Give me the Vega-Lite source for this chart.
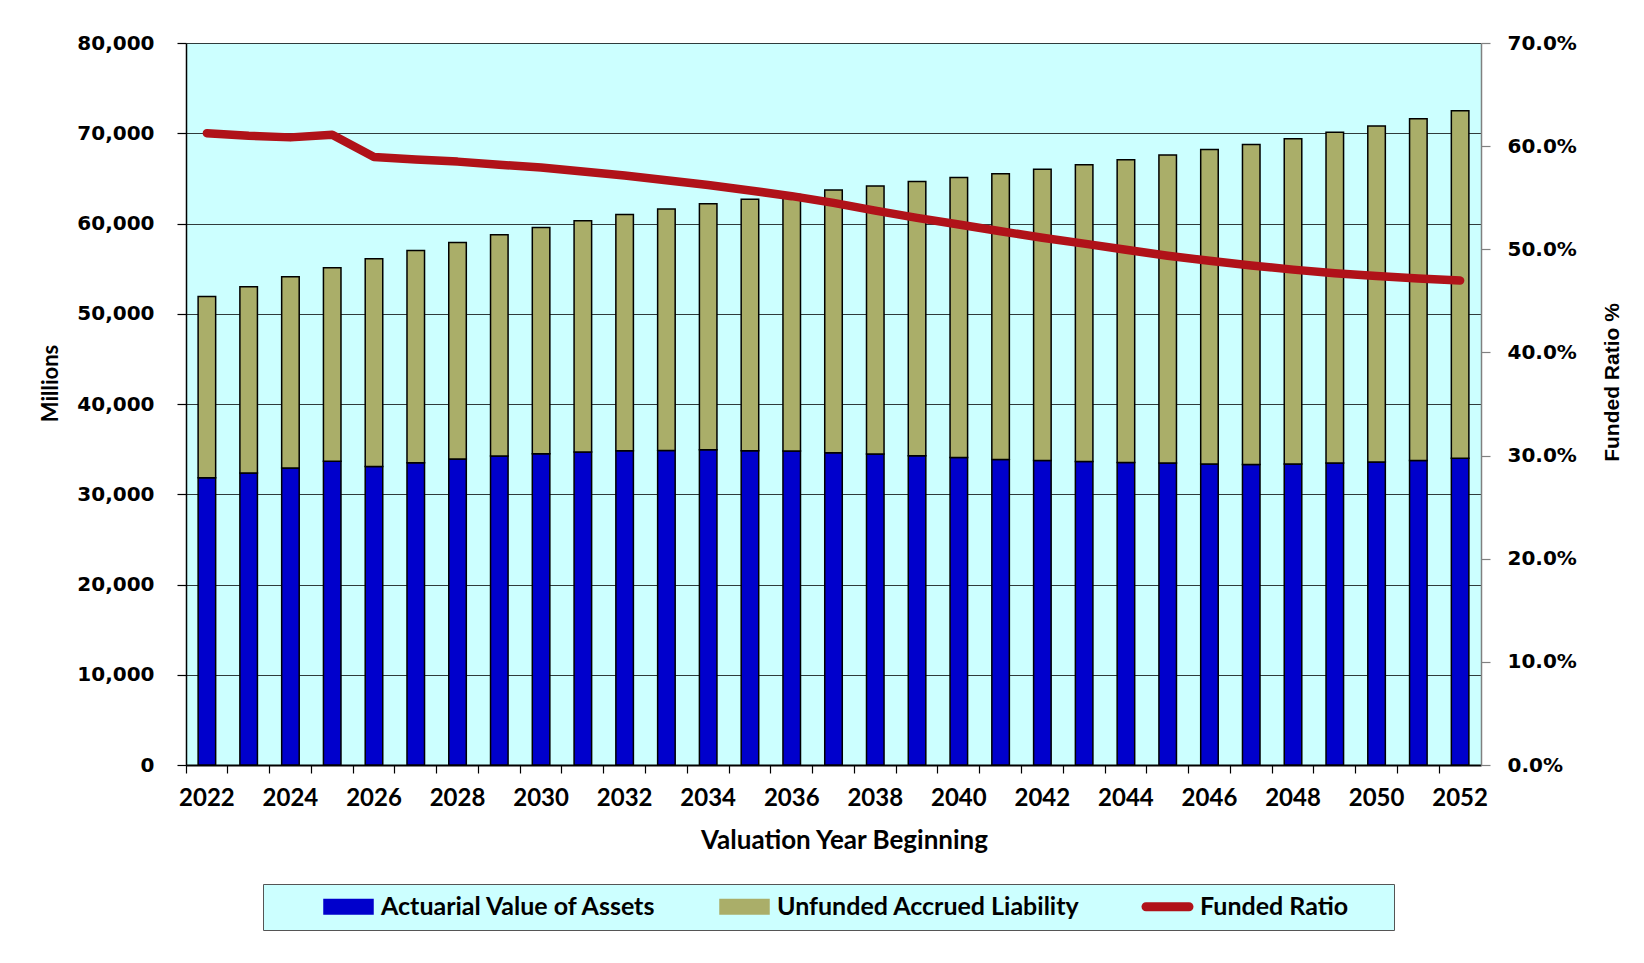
{
  "$schema": "https://vega.github.io/schema/vega-lite/v6.json",
  "autosize": {"type": "none"},
  "width": 1295,
  "height": 722,
  "padding": {"left": 186, "top": 43, "right": 163, "bottom": 198},
  "background": "white",
  "config": {"view": {"stroke": null, "fill": "#CCFFFF"}},
  "data": {
    "values": [
      {"year": 2022, "assets": 31830, "ual": 20070, "ratio": 0.6125},
      {"year": 2023, "assets": 32350, "ual": 20650, "ratio": 0.6100},
      {"year": 2024, "assets": 32900, "ual": 21200, "ratio": 0.6085},
      {"year": 2025, "assets": 33670, "ual": 21430, "ratio": 0.6110},
      {"year": 2026, "assets": 33080, "ual": 23020, "ratio": 0.5895},
      {"year": 2027, "assets": 33490, "ual": 23510, "ratio": 0.5870},
      {"year": 2028, "assets": 33900, "ual": 24000, "ratio": 0.5850},
      {"year": 2029, "assets": 34230, "ual": 24520, "ratio": 0.5820},
      {"year": 2030, "assets": 34490, "ual": 25060, "ratio": 0.5793},
      {"year": 2031, "assets": 34670, "ual": 25630, "ratio": 0.5755},
      {"year": 2032, "assets": 34820, "ual": 26180, "ratio": 0.5715},
      {"year": 2033, "assets": 34860, "ual": 26740, "ratio": 0.5670},
      {"year": 2034, "assets": 34930, "ual": 27270, "ratio": 0.5623},
      {"year": 2035, "assets": 34820, "ual": 27880, "ratio": 0.5570},
      {"year": 2036, "assets": 34780, "ual": 28420, "ratio": 0.5515},
      {"year": 2037, "assets": 34600, "ual": 29100, "ratio": 0.5450},
      {"year": 2038, "assets": 34450, "ual": 29700, "ratio": 0.5375},
      {"year": 2039, "assets": 34260, "ual": 30390, "ratio": 0.5305},
      {"year": 2040, "assets": 34080, "ual": 31020, "ratio": 0.5240},
      {"year": 2041, "assets": 33860, "ual": 31640, "ratio": 0.5175},
      {"year": 2042, "assets": 33750, "ual": 32250, "ratio": 0.5112},
      {"year": 2043, "assets": 33640, "ual": 32860, "ratio": 0.5055},
      {"year": 2044, "assets": 33530, "ual": 33520, "ratio": 0.4995},
      {"year": 2045, "assets": 33450, "ual": 34150, "ratio": 0.4938},
      {"year": 2046, "assets": 33340, "ual": 34860, "ratio": 0.4888},
      {"year": 2047, "assets": 33300, "ual": 35450, "ratio": 0.4843},
      {"year": 2048, "assets": 33340, "ual": 36060, "ratio": 0.4803},
      {"year": 2049, "assets": 33450, "ual": 36650, "ratio": 0.4768},
      {"year": 2050, "assets": 33560, "ual": 37240, "ratio": 0.4740},
      {"year": 2051, "assets": 33750, "ual": 37850, "ratio": 0.4717},
      {"year": 2052, "assets": 34000, "ual": 38500, "ratio": 0.4697}
    ]
  },
  "encoding": {
    "x": {
      "field": "year",
      "type": "ordinal",
      "scale": {"paddingInner": 0, "paddingOuter": 0},
      "axis": {
        "title": "Valuation Year Beginning",
        "bandPosition": 0,
        "labelAngle": 0,
        "labelExpr": "datum.value % 2 === 0 ? datum.label : ''",
        "labelFont": "Lato",
        "labelFontWeight": "bold",
        "labelFontSize": 24,
        "labelColor": "black",
        "labelBaseline": "alphabetic",
        "labelPadding": 32,
        "labelOverlap": false,
        "tickColor": "black",
        "tickSize": 8,
        "tickWidth": 1.2,
        "domainColor": "black",
        "domainWidth": 2,
        "titleFont": "Lato",
        "titleFontWeight": "bold",
        "titleFontSize": 26,
        "titleColor": "black",
        "titleBaseline": "alphabetic",
        "titleAlign": "center",
        "titleX": 658,
        "titleY": 83
      }
    }
  },
  "layer": [
    {
      "transform": [{"fold": ["assets", "ual"], "as": ["series", "value"]}],
      "mark": {"type": "bar", "width": {"band": 0.42}, "stroke": "black", "strokeWidth": 1.5},
      "encoding": {
        "y": {
          "field": "value",
          "type": "quantitative",
          "stack": "zero",
          "scale": {"domain": [0, 80000], "nice": false},
          "axis": {
            "title": "Millions",
            "values": [0, 10000, 20000, 30000, 40000, 50000, 60000, 70000, 80000],
            "format": ",.0f",
            "labelFont": "DejaVu Sans",
            "labelFontWeight": "bold",
            "labelFontSize": 20,
            "labelColor": "black",
            "labelPadding": 23,
            "tickSize": 9,
            "tickColor": "black",
            "tickWidth": 1.2,
            "domainColor": "black",
            "domainWidth": 1.5,
            "grid": true,
            "gridColor": "#2f3b3b",
            "gridWidth": 1.2,
            "titleFont": "Lato",
            "titleFontWeight": "bold",
            "titleFontSize": 22,
            "titleColor": "black",
            "titleAngle": -90,
            "titleAlign": "center",
            "titleBaseline": "alphabetic",
            "titleX": -129,
            "titleY": 340
          }
        },
        "color": {
          "field": "series",
          "type": "nominal",
          "scale": {"domain": ["assets", "ual", "ratio"], "range": ["#0000CC", "#AAAE69", "#B01219"]},
          "legend": {
            "title": " ",
            "titleOrient": "right",
            "titlePadding": 36,
            "orient": "none",
            "direction": "horizontal",
            "legendX": 77,
            "legendY": 841,
            "padding": 10,
            "fillColor": "#CCFFFF",
            "strokeColor": "#555555",
            "symbolSize": 400,
            "symbolOffset": 63,
            "symbolType": "M-2.45,-0.72H2.45V0.72H-2.45Z",
            "symbolStrokeColor": "black",
            "symbolStrokeWidth": 1.5,
            "labelOffset": 20,
            "columnPadding": 12,
            "labelLimit": 600,
            "labelFont": "Lato",
            "labelFontWeight": "bold",
            "labelFontSize": 25,
            "labelColor": "black",
            "labelExpr": "datum.label === 'assets' ? 'Actuarial Value of Assets' : datum.label === 'ual' ? 'Unfunded Accrued Liability' : 'Funded Ratio'",
            "encode": {
              "symbols": {
                "update": {
                  "shape": {"signal": "datum.value === 'ratio' ? 'M-2.15,-0.45H2.15A0.45,0.45 0 0 1 2.15,0.45H-2.15A0.45,0.45 0 0 1 -2.15,-0.45Z' : 'M-2.45,-0.72H2.45V0.72H-2.45Z'"},
                  "fill": {"signal": "scale('color', datum.value)"},
                  "stroke": {"signal": "datum.value === 'ratio' ? '#B01219' : 'black'"},
                  "strokeWidth": {"signal": "datum.value === 'ratio' ? 0 : 1.5"},
                  "opacity": {"value": 1}
                }
              }
            }
          }
        },
        "order": {"field": "series", "sort": "ascending"}
      }
    },
    {
      "mark": {"type": "line", "strokeWidth": 8.5, "strokeCap": "round", "strokeJoin": "round"},
      "encoding": {
        "y": {
          "field": "ratio",
          "type": "quantitative",
          "scale": {"domain": [0, 0.7], "nice": false},
          "axis": {
            "orient": "right",
            "title": "Funded Ratio %",
            "values": [0, 0.1, 0.2, 0.3, 0.4, 0.5, 0.6, 0.7],
            "format": ".1%",
            "labelFont": "DejaVu Sans",
            "labelFontWeight": "bold",
            "labelFontSize": 20,
            "labelColor": "black",
            "labelPadding": 17,
            "tickSize": 9,
            "tickColor": "#808080",
            "tickWidth": 1.2,
            "domainColor": "#808080",
            "domainWidth": 1.5,
            "grid": false,
            "titleFont": "Liberation Sans",
            "titleFontWeight": "bold",
            "titleFontSize": 21,
            "titleColor": "black",
            "titleAngle": -90,
            "titleAlign": "center",
            "titleBaseline": "alphabetic",
            "titleX": 137,
            "titleY": 339
          }
        },
        "color": {"datum": "ratio", "type": "nominal"}
      }
    }
  ],
  "resolve": {"scale": {"y": "independent"}}
}
